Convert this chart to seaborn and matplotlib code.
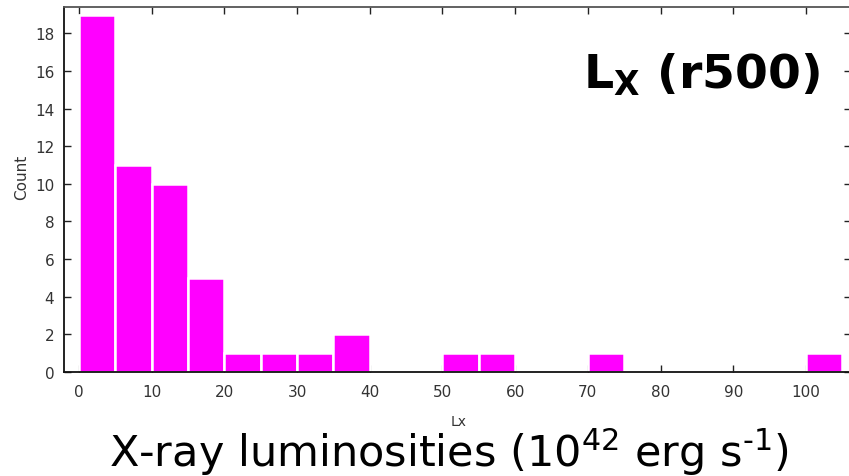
import numpy as np
import pandas as pd
import matplotlib
matplotlib.use("Agg")
import matplotlib.pyplot as plt
import seaborn as sns

# Histogram of cluster X-ray luminosities within r500 (units of 1e42 erg/s)
bin_left = [0, 5, 10, 15, 20, 25, 30, 35, 50, 55, 70, 100]
counts = [19, 11, 10, 5, 1, 1, 1, 2, 1, 1, 1, 1]
bin_width = 5
x_ticks = [0, 10, 20, 30, 40, 50, 60, 70, 80, 90, 100]
y_ticks = [0, 2, 4, 6, 8, 10, 12, 14, 16, 18]

df = pd.DataFrame({"Lx": bin_left, "Count": counts})
edges = [float(e) for e in np.arange(0, 105 + bin_width, bin_width)]

sns.set_style("ticks")
plt.rcParams["font.family"] = ["DejaVu Sans"]

fig = plt.figure(figsize=(8.49, 4.77), dpi=100)
ax = fig.add_axes([64 / 849, 1 - 373 / 477, (851 - 64) / 849, (373 - 8) / 477])

sns.histplot(data=df, x="Lx", weights="Count", bins=edges, ax=ax,
             color="#ff00ff", alpha=1.0, edgecolor="white", linewidth=1.8)

ax.set_xlim(-2.06, 106.2)
ax.set_ylim(0, 19.4)
ax.set_xticks(x_ticks)
ax.set_yticks(y_ticks)
ax.tick_params(axis="both", direction="in", length=5, width=1.0,
               color="#222222", labelcolor="#333333", labelsize=11,
               top=True, right=True)
ax.tick_params(axis="x", pad=9)
ax.tick_params(axis="y", pad=7)

for side in ["left", "bottom", "top", "right"]:
    ax.spines[side].set_visible(True)
    ax.spines[side].set_linewidth(1.3)
ax.spines["left"].set_color("#111111")
ax.spines["bottom"].set_color("#111111")
ax.spines["top"].set_color("#555555")
ax.spines["right"].set_color("#555555")

ax.set_xlabel("Lx", fontsize=10, color="#333333")
ax.xaxis.set_label_coords((459 - 64) / (851 - 64), -(415 - 373) / 365)
ax.set_ylabel("Count", fontsize=11, color="#333333")
ax.yaxis.set_label_coords(-(64 - 29) / 787, (373 - 177) / 365)

ax.text(820 / 849, 1 - 88 / 477, r"$\mathbf{L_X}$ (r500)",
        transform=fig.transFigure, ha="right", va="baseline",
        fontsize=34, fontweight="bold", color="black")

fig.text(449 / 849, 1 - 467 / 477,
         r"X-ray luminosities (10$^{42}$ erg s$^{\text{-}1}$)",
         ha="center", va="baseline", fontsize=31, color="black")

fig.savefig("out.png", dpi=100)
